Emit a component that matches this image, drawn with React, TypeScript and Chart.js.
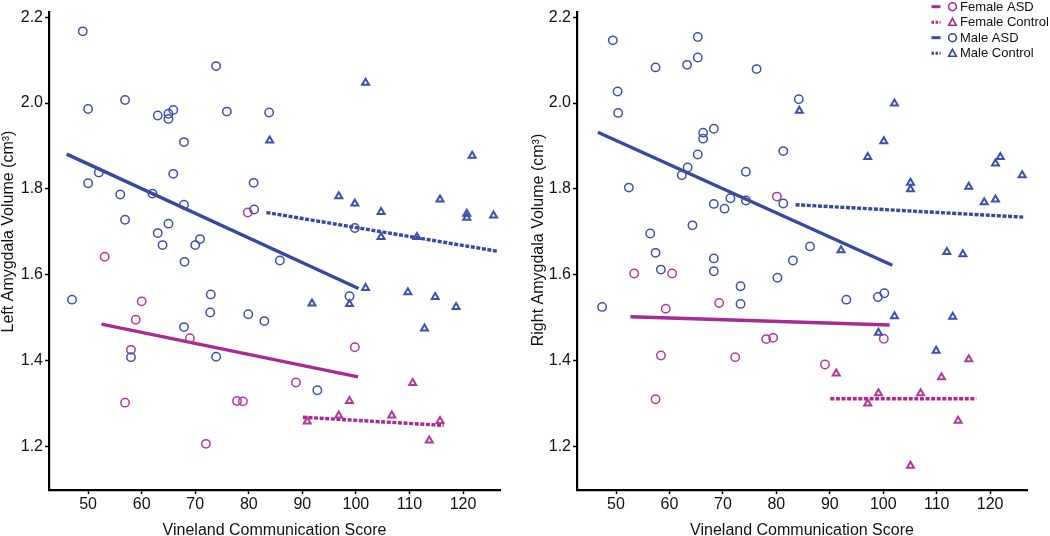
import React, { useEffect, useRef } from 'react';
import { Chart, registerables } from 'chart.js';

Chart.register(...registerables);

// ---- shared axis setup ----
const xTickValues = [50, 60, 70, 80, 90, 100, 110, 120];
const yTickValues = [1.2, 1.4, 1.6, 1.8, 2.0, 2.2];
const xMin = 42.7;
const xMax = 126.9;
const yMin = 1.0985;
const yMax = 2.213;
const xTitle = 'Vineland Communication Score';
const leftYTitle = 'Left Amygdala Volume (cm³)';
const rightYTitle = 'Right Amygdala Volume (cm³)';
const legendLabels = ['Female ASD', 'Female Control', 'Male ASD', 'Male Control'];

// ---- left panel data ----
const leftMaleAsd = [
  [49.0, 2.167], [50.0, 1.986], [56.9, 2.007], [63.0, 1.971], [65.0, 1.975], [65.0, 1.963],
  [65.9, 1.984], [73.9, 2.086], [75.9, 1.98], [83.8, 1.978], [67.9, 1.909], [50.0, 1.813],
  [52.0, 1.838], [56.0, 1.787], [62.0, 1.789], [65.9, 1.835], [67.9, 1.763], [80.9, 1.814],
  [81.0, 1.752], [56.9, 1.728], [63.0, 1.697], [65.0, 1.719], [63.9, 1.669], [70.0, 1.669],
  [70.9, 1.683], [68.0, 1.63], [99.8, 1.709], [85.8, 1.633], [47.0, 1.542], [58.0, 1.408],
  [67.9, 1.478], [72.9, 1.554], [72.8, 1.512], [73.9, 1.409], [79.9, 1.508], [82.9, 1.492],
  [98.8, 1.55], [92.8, 1.331],
];
const leftFemaleAsd = [
  [53.1, 1.642], [79.8, 1.745], [60.0, 1.538], [58.9, 1.495], [58.0, 1.425], [56.9, 1.302],
  [69.0, 1.452], [77.8, 1.306], [78.9, 1.305], [72.0, 1.206], [99.8, 1.431], [88.8, 1.349],
];
const leftFemaleControl = [
  [110.6, 1.348], [98.8, 1.306], [96.8, 1.272], [90.9, 1.258], [106.7, 1.272], [115.7, 1.259],
  [113.7, 1.214],
];
const leftMaleControl = [
  [101.8, 2.047], [83.9, 1.913], [121.7, 1.877], [96.8, 1.783], [99.8, 1.766], [104.7, 1.746],
  [115.7, 1.775], [120.7, 1.742], [120.7, 1.733], [125.7, 1.738], [104.7, 1.688], [111.4, 1.688],
  [101.8, 1.569], [109.7, 1.559], [114.8, 1.548], [118.7, 1.525], [91.8, 1.533], [98.8, 1.532],
  [112.8, 1.475],
];
const leftMaleAsdFit = [[46.0, 1.881], [100.5, 1.568]];
const leftFemaleAsdFit = [[52.5, 1.485], [100.4, 1.362]];
const leftMaleControlFit = [[83.3, 1.745], [126.3, 1.655]];
const leftFemaleControlFit = [[90.1, 1.268], [116.4, 1.249]];

// ---- right panel data ----
const rightMaleAsd = [
  [49.4, 2.146], [50.3, 2.027], [50.4, 1.977], [52.4, 1.803], [57.4, 2.083], [63.3, 2.089],
  [65.3, 2.154], [65.3, 2.106], [66.3, 1.931], [66.3, 1.917], [68.3, 1.94], [65.3, 1.88],
  [63.4, 1.85], [62.3, 1.832], [74.3, 1.84], [76.3, 2.079], [68.3, 1.765], [70.3, 1.754],
  [71.4, 1.778], [74.3, 1.773], [81.3, 1.888], [81.3, 1.766], [64.3, 1.715], [56.4, 1.696],
  [57.4, 1.651], [68.3, 1.638], [83.1, 1.633], [84.2, 2.009], [86.3, 1.666], [47.4, 1.525],
  [58.4, 1.612], [68.3, 1.608], [73.3, 1.573], [73.3, 1.532], [80.2, 1.593], [93.1, 1.542],
  [99.0, 1.548], [100.2, 1.557],
];
const rightFemaleAsd = [
  [80.1, 1.782], [53.4, 1.603], [60.5, 1.603], [59.3, 1.521], [69.3, 1.534], [58.4, 1.412],
  [57.4, 1.31], [72.3, 1.408], [78.1, 1.45], [79.4, 1.453], [89.1, 1.391], [100.1, 1.451],
];
const rightFemaleControl = [
  [91.2, 1.37], [99.1, 1.324], [97.1, 1.3], [107.0, 1.324], [110.9, 1.361], [116.0, 1.403],
  [114.0, 1.26], [105.1, 1.155],
];
const rightMaleControl = [
  [84.3, 1.982], [102.1, 1.999], [100.1, 1.911], [97.1, 1.874], [121.9, 1.874], [121.0, 1.859],
  [126.0, 1.832], [105.1, 1.814], [105.1, 1.799], [116.0, 1.805], [121.0, 1.775], [118.9, 1.769],
  [92.1, 1.657], [111.9, 1.653], [114.9, 1.648], [102.1, 1.503], [113.0, 1.502], [99.1, 1.465],
  [109.9, 1.423],
];
const rightMaleAsdFit = [[46.6, 1.932], [101.7, 1.622]];
const rightFemaleAsdFit = [[52.7, 1.502], [101.2, 1.483]];
const rightMaleControlFit = [[83.6, 1.763], [126.5, 1.734]];
const rightFemaleControlFit = [[90.1, 1.311], [117.4, 1.311]];

// ---- styles ----
const BLUE = '#3f4fae';
const BLUE_LINE = '#3847a0';
const MAGENTA = '#b2399b';
const MAGENTA_LINE = '#a82a92';
const TICK_FONT = '"Liberation Sans", Arial, sans-serif';
const TEXT_FONT = '"Liberation Sans", Arial, Helvetica, sans-serif';
const DASH = [4, 1.6];

const toPts = (arr: number[][]) => arr.map(([x, y]) => ({ x, y }));

function pointSet(data: number[][], color: string, style: string) {
  return {
    data: toPts(data),
    showLine: false,
    pointStyle: style,
    pointRadius: style === 'circle' ? 4.2 : 4,
    pointBorderWidth: style === 'circle' ? 1.5 : 2,
    pointBorderColor: color,
    pointBackgroundColor: 'rgba(0,0,0,0)',
    borderColor: color,
    backgroundColor: 'rgba(0,0,0,0)',
  };
}

function fitSet(data: number[][], color: string, dashed: boolean) {
  return {
    data: toPts(data),
    showLine: true,
    pointRadius: 0,
    borderColor: color,
    borderWidth: dashed ? 3.4 : 3.4,
    borderDash: dashed ? DASH : [],
    borderCapStyle: 'butt',
    fill: false,
  };
}

function titlesPlugin(yTitle: string, yBaselineX: number, yCenter: number) {
  return {
    id: 'axisTitles',
    afterDraw(chart: any) {
      const { ctx, chartArea } = chart;
      ctx.save();
      ctx.fillStyle = '#111';
      ctx.font = `16px ${TEXT_FONT}`;
      ctx.textAlign = 'center';
      ctx.textBaseline = 'alphabetic';
      ctx.fillText(xTitle, (chartArea.left + chartArea.right) / 2, 535);
      ctx.translate(yBaselineX, yCenter);
      ctx.rotate(-Math.PI / 2);
      ctx.fillText(yTitle, 0, 0);
      ctx.restore();
    },
  };
}

const legendPlugin = {
  id: 'customLegend',
  afterDraw(chart: any) {
    const { ctx } = chart;
    const rows = [6.7, 22.3, 37.7, 53.3];
    const colors = [MAGENTA_LINE, MAGENTA_LINE, BLUE_LINE, BLUE_LINE];
    const dashed = [false, true, false, true];
    const marker = ['circle', 'triangle', 'circle', 'triangle'];
    ctx.save();
    rows.forEach((y, i) => {
      ctx.strokeStyle = colors[i];
      ctx.lineWidth = 3;
      ctx.setLineDash(dashed[i] ? [2.5, 1.5] : []);
      ctx.beginPath();
      ctx.moveTo(406.5, y);
      ctx.lineTo(415.5, y);
      ctx.stroke();
      ctx.setLineDash([]);
      ctx.lineWidth = 1.6;
      ctx.beginPath();
      if (marker[i] === 'circle') {
        ctx.arc(427.5, y, 3.9, 0, Math.PI * 2);
      } else {
        ctx.moveTo(427.5, y - 4);
        ctx.lineTo(431.3, y + 3);
        ctx.lineTo(423.7, y + 3);
        ctx.closePath();
      }
      ctx.stroke();
      ctx.fillStyle = '#111';
      ctx.font = `13px ${TEXT_FONT}`;
      ctx.textAlign = 'left';
      ctx.textBaseline = 'middle';
      ctx.fillText(legendLabels[i], 435, y + 0.5);
    });
    ctx.restore();
  },
};

function makeConfig(
  maleAsd: number[][], femaleAsd: number[][], femaleControl: number[][], maleControl: number[][],
  maleAsdFit: number[][], femaleAsdFit: number[][], maleControlFit: number[][], femaleControlFit: number[][],
  yAxisWidth: number, rightPad: number, plugins: any[],
) {
  return {
    type: 'scatter',
    data: {
      datasets: [
        pointSet(maleAsd, BLUE, 'circle'),
        pointSet(maleControl, BLUE, 'triangle'),
        pointSet(femaleAsd, MAGENTA, 'circle'),
        pointSet(femaleControl, MAGENTA, 'triangle'),
        fitSet(maleAsdFit, BLUE_LINE, false),
        fitSet(maleControlFit, BLUE_LINE, true),
        fitSet(femaleAsdFit, MAGENTA_LINE, false),
        fitSet(femaleControlFit, MAGENTA_LINE, true),
      ],
    },
    options: {
      responsive: false,
      animation: false,
      events: [],
      layout: { padding: { left: 0, right: rightPad, top: 3, bottom: 0 } },
      plugins: { legend: { display: false }, tooltip: { enabled: false }, title: { display: false } },
      scales: {
        x: {
          type: 'linear',
          min: xMin,
          max: xMax,
          afterBuildTicks: (scale: any) => { scale.ticks = xTickValues.map((v) => ({ value: v })); },
          afterFit: (scale: any) => { scale.height = 46; },
          grid: { display: true, drawOnChartArea: false, drawTicks: true, tickLength: 4, tickColor: '#000', tickWidth: 1.5, color: '#000' },
          border: { display: true, color: '#000', width: 2.2 },
          ticks: { color: '#111', padding: 1, font: { family: TICK_FONT, size: 16 }, maxRotation: 0, autoSkip: false, callback: (v: number) => String(v) },
        },
        y: {
          type: 'linear',
          min: yMin,
          max: yMax,
          afterBuildTicks: (scale: any) => { scale.ticks = yTickValues.map((v) => ({ value: v })); },
          afterFit: (scale: any) => { scale.width = yAxisWidth; },
          grid: { display: true, drawOnChartArea: false, drawTicks: true, tickLength: 4, tickColor: '#000', tickWidth: 1.5, color: '#000' },
          border: { display: true, color: '#000', width: 2.2 },
          ticks: { color: '#111', padding: 2, font: { family: TICK_FONT, size: 16 }, autoSkip: false, callback: (v: number) => v.toFixed(1) },
        },
      },
    },
    plugins,
  };
}

function Panel({ config, left }: { config: any; left: number }) {
  const ref = useRef<HTMLCanvasElement | null>(null);
  useEffect(() => {
    if (!ref.current) return;
    const chart = new Chart(ref.current, config);
    return () => chart.destroy();
  }, [config]);
  return (
    <canvas
      ref={ref}
      width={525}
      height={536}
      style={{ position: 'absolute', left, top: 0, width: 525, height: 536, display: 'block' }}
    />
  );
}

const leftConfig = makeConfig(
  leftMaleAsd, leftFemaleAsd, leftFemaleControl, leftMaleControl,
  leftMaleAsdFit, leftFemaleAsdFit, leftMaleControlFit, leftFemaleControlFit,
  49, 25, [titlesPlugin(leftYTitle, 13, 231.5)],
);
const rightConfig = makeConfig(
  rightMaleAsd, rightFemaleAsd, rightFemaleControl, rightMaleControl,
  rightMaleAsdFit, rightFemaleAsdFit, rightMaleControlFit, rightFemaleControlFit,
  52, 23, [titlesPlugin(rightYTitle, 18, 240), legendPlugin],
);

export default function App() {
  return (
    <div style={{ position: 'absolute', left: 0, top: 0, width: 1050, height: 536, background: '#fff', overflow: 'hidden' }}>
      <Panel config={leftConfig} left={0} />
      <Panel config={rightConfig} left={525} />
    </div>
  );
}
